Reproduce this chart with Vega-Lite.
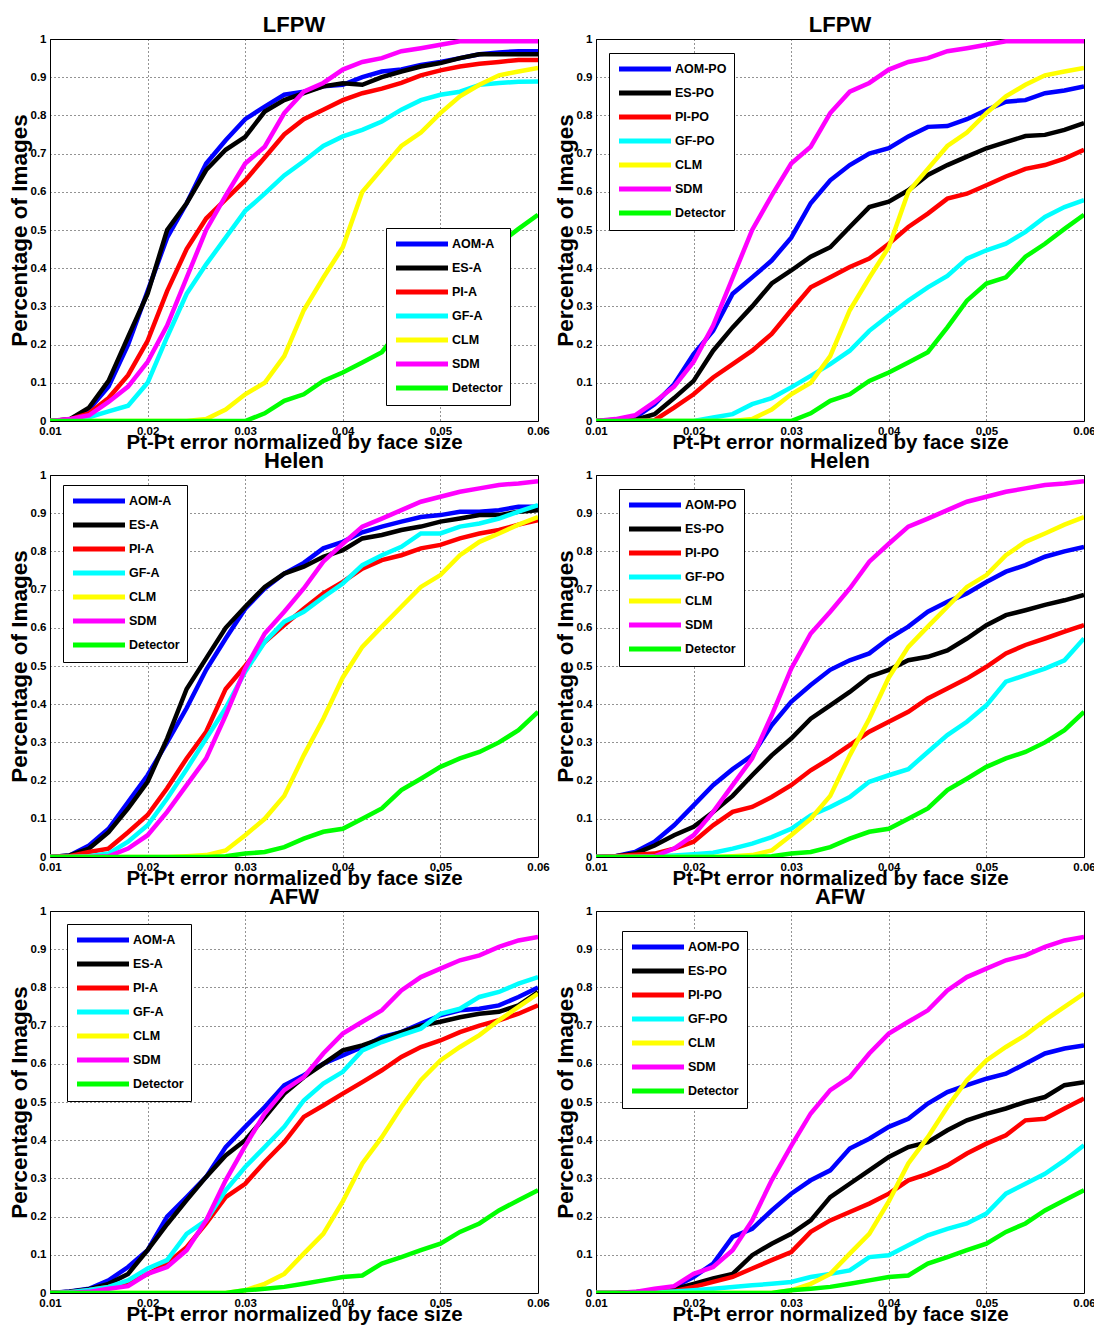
{
  "$schema": "https://vega.github.io/schema/vega-lite/v6.json",
  "background": "white",
  "padding": {"left": 7, "top": 13, "right": 5, "bottom": 5},
  "datasets": {
    "lfpw": [
      {"x":0.01,"AOM-A":0,"ES-A":0,"PI-A":0,"GF-A":0,"AOM-PO":0,"ES-PO":0,"PI-PO":0,"GF-PO":0,"CLM":0,"SDM":0,"Detector":0},
      {"x":0.012,"AOM-A":0.004,"ES-A":0.004,"PI-A":0.004,"GF-A":0.002,"AOM-PO":0.003,"ES-PO":0,"PI-PO":0,"GF-PO":0,"CLM":0,"SDM":0.005,"Detector":0},
      {"x":0.014,"AOM-A":0.03,"ES-A":0.035,"PI-A":0.02,"GF-A":0.01,"AOM-PO":0.009,"ES-PO":0.003,"PI-PO":0,"GF-PO":0,"CLM":0,"SDM":0.015,"Detector":0},
      {"x":0.016,"AOM-A":0.09,"ES-A":0.105,"PI-A":0.06,"GF-A":0.025,"AOM-PO":0.044,"ES-PO":0.018,"PI-PO":0.002,"GF-PO":0,"CLM":0,"SDM":0.05,"Detector":0},
      {"x":0.018,"AOM-A":0.2,"ES-A":0.22,"PI-A":0.12,"GF-A":0.04,"AOM-PO":0.096,"ES-PO":0.06,"PI-PO":0.035,"GF-PO":0,"CLM":0,"SDM":0.09,"Detector":0},
      {"x":0.02,"AOM-A":0.34,"ES-A":0.333,"PI-A":0.21,"GF-A":0.1,"AOM-PO":0.175,"ES-PO":0.105,"PI-PO":0.07,"GF-PO":0,"CLM":0,"SDM":0.155,"Detector":0},
      {"x":0.022,"AOM-A":0.48,"ES-A":0.5,"PI-A":0.34,"GF-A":0.22,"AOM-PO":0.236,"ES-PO":0.184,"PI-PO":0.114,"GF-PO":0.009,"CLM":0,"SDM":0.25,"Detector":0},
      {"x":0.024,"AOM-A":0.57,"ES-A":0.57,"PI-A":0.45,"GF-A":0.333,"AOM-PO":0.333,"ES-PO":0.245,"PI-PO":0.149,"GF-PO":0.018,"CLM":0,"SDM":0.375,"Detector":0},
      {"x":0.026,"AOM-A":0.674,"ES-A":0.657,"PI-A":0.53,"GF-A":0.41,"AOM-PO":0.376,"ES-PO":0.3,"PI-PO":0.184,"GF-PO":0.044,"CLM":0.005,"SDM":0.5,"Detector":0},
      {"x":0.028,"AOM-A":0.735,"ES-A":0.71,"PI-A":0.58,"GF-A":0.48,"AOM-PO":0.42,"ES-PO":0.36,"PI-PO":0.228,"GF-PO":0.06,"CLM":0.03,"SDM":0.59,"Detector":0},
      {"x":0.03,"AOM-A":0.79,"ES-A":0.744,"PI-A":0.63,"GF-A":0.55,"AOM-PO":0.48,"ES-PO":0.394,"PI-PO":0.29,"GF-PO":0.088,"CLM":0.07,"SDM":0.674,"Detector":0},
      {"x":0.032,"AOM-A":0.823,"ES-A":0.81,"PI-A":0.69,"GF-A":0.595,"AOM-PO":0.57,"ES-PO":0.43,"PI-PO":0.35,"GF-PO":0.118,"CLM":0.1,"SDM":0.718,"Detector":0.02},
      {"x":0.034,"AOM-A":0.854,"ES-A":0.84,"PI-A":0.75,"GF-A":0.643,"AOM-PO":0.63,"ES-PO":0.455,"PI-PO":0.376,"GF-PO":0.149,"CLM":0.17,"SDM":0.806,"Detector":0.053},
      {"x":0.036,"AOM-A":0.862,"ES-A":0.858,"PI-A":0.79,"GF-A":0.68,"AOM-PO":0.67,"ES-PO":0.508,"PI-PO":0.403,"GF-PO":0.184,"CLM":0.29,"SDM":0.862,"Detector":0.07},
      {"x":0.038,"AOM-A":0.876,"ES-A":0.876,"PI-A":0.815,"GF-A":0.72,"AOM-PO":0.7,"ES-PO":0.56,"PI-PO":0.425,"GF-PO":0.236,"CLM":0.375,"SDM":0.885,"Detector":0.105},
      {"x":0.04,"AOM-A":0.88,"ES-A":0.884,"PI-A":0.84,"GF-A":0.745,"AOM-PO":0.714,"ES-PO":0.574,"PI-PO":0.464,"GF-PO":0.276,"CLM":0.455,"SDM":0.92,"Detector":0.127},
      {"x":0.042,"AOM-A":0.9,"ES-A":0.88,"PI-A":0.858,"GF-A":0.762,"AOM-PO":0.745,"ES-PO":0.604,"PI-PO":0.508,"GF-PO":0.315,"CLM":0.6,"SDM":0.94,"Detector":0.153},
      {"x":0.044,"AOM-A":0.915,"ES-A":0.9,"PI-A":0.87,"GF-A":0.784,"AOM-PO":0.77,"ES-PO":0.644,"PI-PO":0.543,"GF-PO":0.35,"CLM":0.66,"SDM":0.95,"Detector":0.18},
      {"x":0.046,"AOM-A":0.92,"ES-A":0.915,"PI-A":0.885,"GF-A":0.815,"AOM-PO":0.772,"ES-PO":0.67,"PI-PO":0.582,"GF-PO":0.38,"CLM":0.72,"SDM":0.968,"Detector":0.245},
      {"x":0.048,"AOM-A":0.932,"ES-A":0.928,"PI-A":0.905,"GF-A":0.84,"AOM-PO":0.79,"ES-PO":0.692,"PI-PO":0.595,"GF-PO":0.425,"CLM":0.755,"SDM":0.976,"Detector":0.315},
      {"x":0.05,"AOM-A":0.94,"ES-A":0.937,"PI-A":0.918,"GF-A":0.854,"AOM-PO":0.814,"ES-PO":0.714,"PI-PO":0.617,"GF-PO":0.447,"CLM":0.806,"SDM":0.985,"Detector":0.36},
      {"x":0.052,"AOM-A":0.95,"ES-A":0.95,"PI-A":0.928,"GF-A":0.862,"AOM-PO":0.836,"ES-PO":0.73,"PI-PO":0.64,"GF-PO":0.464,"CLM":0.85,"SDM":0.994,"Detector":0.376},
      {"x":0.054,"AOM-A":0.96,"ES-A":0.96,"PI-A":0.935,"GF-A":0.88,"AOM-PO":0.84,"ES-PO":0.746,"PI-PO":0.66,"GF-PO":0.495,"CLM":0.88,"SDM":0.994,"Detector":0.43},
      {"x":0.056,"AOM-A":0.965,"ES-A":0.96,"PI-A":0.94,"GF-A":0.885,"AOM-PO":0.858,"ES-PO":0.749,"PI-PO":0.67,"GF-PO":0.534,"CLM":0.905,"SDM":0.994,"Detector":0.464},
      {"x":0.058,"AOM-A":0.968,"ES-A":0.96,"PI-A":0.945,"GF-A":0.888,"AOM-PO":0.865,"ES-PO":0.762,"PI-PO":0.687,"GF-PO":0.56,"CLM":0.915,"SDM":0.994,"Detector":0.503},
      {"x":0.06,"AOM-A":0.968,"ES-A":0.96,"PI-A":0.945,"GF-A":0.889,"AOM-PO":0.876,"ES-PO":0.78,"PI-PO":0.71,"GF-PO":0.578,"CLM":0.924,"SDM":0.994,"Detector":0.54}
    ],
    "helen": [
      {"x":0.01,"AOM-A":0,"ES-A":0,"PI-A":0,"GF-A":0,"AOM-PO":0,"ES-PO":0,"PI-PO":0,"GF-PO":0,"CLM":0,"SDM":0,"Detector":0},
      {"x":0.012,"AOM-A":0.004,"ES-A":0.004,"PI-A":0.002,"GF-A":0,"AOM-PO":0.002,"ES-PO":0.002,"PI-PO":0.002,"GF-PO":0,"CLM":0,"SDM":0,"Detector":0},
      {"x":0.014,"AOM-A":0.03,"ES-A":0.022,"PI-A":0.013,"GF-A":0.002,"AOM-PO":0.013,"ES-PO":0.009,"PI-PO":0.006,"GF-PO":0,"CLM":0,"SDM":0,"Detector":0},
      {"x":0.016,"AOM-A":0.074,"ES-A":0.065,"PI-A":0.022,"GF-A":0.009,"AOM-PO":0.04,"ES-PO":0.03,"PI-PO":0.009,"GF-PO":0.002,"CLM":0,"SDM":0.002,"Detector":0},
      {"x":0.018,"AOM-A":0.144,"ES-A":0.127,"PI-A":0.065,"GF-A":0.04,"AOM-PO":0.083,"ES-PO":0.057,"PI-PO":0.022,"GF-PO":0.004,"CLM":0,"SDM":0.022,"Detector":0},
      {"x":0.02,"AOM-A":0.214,"ES-A":0.197,"PI-A":0.11,"GF-A":0.083,"AOM-PO":0.135,"ES-PO":0.079,"PI-PO":0.04,"GF-PO":0.007,"CLM":0,"SDM":0.057,"Detector":0},
      {"x":0.022,"AOM-A":0.3,"ES-A":0.31,"PI-A":0.18,"GF-A":0.153,"AOM-PO":0.188,"ES-PO":0.118,"PI-PO":0.083,"GF-PO":0.011,"CLM":0,"SDM":0.118,"Detector":0},
      {"x":0.024,"AOM-A":0.39,"ES-A":0.44,"PI-A":0.258,"GF-A":0.23,"AOM-PO":0.23,"ES-PO":0.16,"PI-PO":0.118,"GF-PO":0.022,"CLM":0.002,"SDM":0.188,"Detector":0},
      {"x":0.026,"AOM-A":0.49,"ES-A":0.52,"PI-A":0.328,"GF-A":0.31,"AOM-PO":0.266,"ES-PO":0.214,"PI-PO":0.131,"GF-PO":0.035,"CLM":0.005,"SDM":0.258,"Detector":0},
      {"x":0.028,"AOM-A":0.572,"ES-A":0.6,"PI-A":0.44,"GF-A":0.39,"AOM-PO":0.345,"ES-PO":0.266,"PI-PO":0.157,"GF-PO":0.052,"CLM":0.017,"SDM":0.371,"Detector":0.002},
      {"x":0.03,"AOM-A":0.65,"ES-A":0.655,"PI-A":0.5,"GF-A":0.485,"AOM-PO":0.406,"ES-PO":0.31,"PI-PO":0.188,"GF-PO":0.074,"CLM":0.057,"SDM":0.493,"Detector":0.009},
      {"x":0.032,"AOM-A":0.703,"ES-A":0.707,"PI-A":0.563,"GF-A":0.563,"AOM-PO":0.45,"ES-PO":0.362,"PI-PO":0.227,"GF-PO":0.109,"CLM":0.1,"SDM":0.585,"Detector":0.013},
      {"x":0.034,"AOM-A":0.742,"ES-A":0.742,"PI-A":0.607,"GF-A":0.616,"AOM-PO":0.49,"ES-PO":0.397,"PI-PO":0.258,"GF-PO":0.131,"CLM":0.16,"SDM":0.642,"Detector":0.026},
      {"x":0.036,"AOM-A":0.77,"ES-A":0.76,"PI-A":0.65,"GF-A":0.642,"AOM-PO":0.515,"ES-PO":0.432,"PI-PO":0.293,"GF-PO":0.157,"CLM":0.266,"SDM":0.703,"Detector":0.048},
      {"x":0.038,"AOM-A":0.808,"ES-A":0.786,"PI-A":0.69,"GF-A":0.68,"AOM-PO":0.533,"ES-PO":0.472,"PI-PO":0.328,"GF-PO":0.197,"CLM":0.362,"SDM":0.773,"Detector":0.066},
      {"x":0.04,"AOM-A":0.825,"ES-A":0.803,"PI-A":0.72,"GF-A":0.716,"AOM-PO":0.572,"ES-PO":0.49,"PI-PO":0.354,"GF-PO":0.214,"CLM":0.47,"SDM":0.82,"Detector":0.074},
      {"x":0.042,"AOM-A":0.85,"ES-A":0.834,"PI-A":0.755,"GF-A":0.764,"AOM-PO":0.603,"ES-PO":0.515,"PI-PO":0.38,"GF-PO":0.23,"CLM":0.55,"SDM":0.865,"Detector":0.1},
      {"x":0.044,"AOM-A":0.865,"ES-A":0.843,"PI-A":0.777,"GF-A":0.79,"AOM-PO":0.642,"ES-PO":0.524,"PI-PO":0.415,"GF-PO":0.275,"CLM":0.603,"SDM":0.886,"Detector":0.127},
      {"x":0.046,"AOM-A":0.878,"ES-A":0.856,"PI-A":0.79,"GF-A":0.812,"AOM-PO":0.668,"ES-PO":0.541,"PI-PO":0.441,"GF-PO":0.319,"CLM":0.655,"SDM":0.908,"Detector":0.175},
      {"x":0.048,"AOM-A":0.89,"ES-A":0.865,"PI-A":0.808,"GF-A":0.847,"AOM-PO":0.69,"ES-PO":0.572,"PI-PO":0.467,"GF-PO":0.354,"CLM":0.707,"SDM":0.93,"Detector":0.205},
      {"x":0.05,"AOM-A":0.895,"ES-A":0.878,"PI-A":0.817,"GF-A":0.847,"AOM-PO":0.72,"ES-PO":0.607,"PI-PO":0.498,"GF-PO":0.397,"CLM":0.738,"SDM":0.943,"Detector":0.236},
      {"x":0.052,"AOM-A":0.904,"ES-A":0.886,"PI-A":0.834,"GF-A":0.865,"AOM-PO":0.747,"ES-PO":0.633,"PI-PO":0.533,"GF-PO":0.459,"CLM":0.79,"SDM":0.956,"Detector":0.258},
      {"x":0.054,"AOM-A":0.904,"ES-A":0.895,"PI-A":0.847,"GF-A":0.873,"AOM-PO":0.764,"ES-PO":0.646,"PI-PO":0.555,"GF-PO":0.476,"CLM":0.825,"SDM":0.965,"Detector":0.275},
      {"x":0.056,"AOM-A":0.908,"ES-A":0.895,"PI-A":0.856,"GF-A":0.886,"AOM-PO":0.786,"ES-PO":0.66,"PI-PO":0.572,"GF-PO":0.493,"CLM":0.847,"SDM":0.974,"Detector":0.3},
      {"x":0.058,"AOM-A":0.917,"ES-A":0.904,"PI-A":0.87,"GF-A":0.904,"AOM-PO":0.8,"ES-PO":0.672,"PI-PO":0.59,"GF-PO":0.515,"CLM":0.87,"SDM":0.978,"Detector":0.332},
      {"x":0.06,"AOM-A":0.917,"ES-A":0.908,"PI-A":0.882,"GF-A":0.921,"AOM-PO":0.812,"ES-PO":0.686,"PI-PO":0.607,"GF-PO":0.572,"CLM":0.89,"SDM":0.984,"Detector":0.38}
    ],
    "afw": [
      {"x":0.01,"AOM-A":0,"ES-A":0,"PI-A":0,"GF-A":0,"AOM-PO":0,"ES-PO":0,"PI-PO":0,"GF-PO":0,"CLM":0,"SDM":0,"Detector":0},
      {"x":0.012,"AOM-A":0.004,"ES-A":0.003,"PI-A":0.002,"GF-A":0.002,"AOM-PO":0,"ES-PO":0,"PI-PO":0,"GF-PO":0,"CLM":0,"SDM":0,"Detector":0},
      {"x":0.014,"AOM-A":0.011,"ES-A":0.01,"PI-A":0.008,"GF-A":0.008,"AOM-PO":0.002,"ES-PO":0.002,"PI-PO":0.002,"GF-PO":0,"CLM":0,"SDM":0.003,"Detector":0},
      {"x":0.016,"AOM-A":0.033,"ES-A":0.024,"PI-A":0.016,"GF-A":0.016,"AOM-PO":0.005,"ES-PO":0.005,"PI-PO":0.004,"GF-PO":0.002,"CLM":0,"SDM":0.011,"Detector":0},
      {"x":0.018,"AOM-A":0.068,"ES-A":0.05,"PI-A":0.024,"GF-A":0.033,"AOM-PO":0.016,"ES-PO":0.01,"PI-PO":0.005,"GF-PO":0.004,"CLM":0,"SDM":0.018,"Detector":0},
      {"x":0.02,"AOM-A":0.112,"ES-A":0.112,"PI-A":0.05,"GF-A":0.064,"AOM-PO":0.042,"ES-PO":0.024,"PI-PO":0.016,"GF-PO":0.007,"CLM":0,"SDM":0.05,"Detector":0},
      {"x":0.022,"AOM-A":0.2,"ES-A":0.18,"PI-A":0.077,"GF-A":0.086,"AOM-PO":0.077,"ES-PO":0.038,"PI-PO":0.029,"GF-PO":0.011,"CLM":0,"SDM":0.068,"Detector":0},
      {"x":0.024,"AOM-A":0.251,"ES-A":0.243,"PI-A":0.12,"GF-A":0.155,"AOM-PO":0.147,"ES-PO":0.05,"PI-PO":0.042,"GF-PO":0.016,"CLM":0,"SDM":0.112,"Detector":0},
      {"x":0.026,"AOM-A":0.304,"ES-A":0.304,"PI-A":0.182,"GF-A":0.19,"AOM-PO":0.168,"ES-PO":0.099,"PI-PO":0.064,"GF-PO":0.02,"CLM":0,"SDM":0.19,"Detector":0},
      {"x":0.028,"AOM-A":0.382,"ES-A":0.36,"PI-A":0.251,"GF-A":0.269,"AOM-PO":0.216,"ES-PO":0.129,"PI-PO":0.086,"GF-PO":0.024,"CLM":0,"SDM":0.295,"Detector":0},
      {"x":0.03,"AOM-A":0.435,"ES-A":0.4,"PI-A":0.286,"GF-A":0.33,"AOM-PO":0.26,"ES-PO":0.155,"PI-PO":0.107,"GF-PO":0.029,"CLM":0.007,"SDM":0.385,"Detector":0.007},
      {"x":0.032,"AOM-A":0.487,"ES-A":0.46,"PI-A":0.343,"GF-A":0.382,"AOM-PO":0.295,"ES-PO":0.19,"PI-PO":0.16,"GF-PO":0.042,"CLM":0.024,"SDM":0.47,"Detector":0.011},
      {"x":0.034,"AOM-A":0.544,"ES-A":0.522,"PI-A":0.395,"GF-A":0.435,"AOM-PO":0.321,"ES-PO":0.251,"PI-PO":0.19,"GF-PO":0.05,"CLM":0.05,"SDM":0.531,"Detector":0.016},
      {"x":0.036,"AOM-A":0.57,"ES-A":0.565,"PI-A":0.461,"GF-A":0.504,"AOM-PO":0.378,"ES-PO":0.286,"PI-PO":0.212,"GF-PO":0.059,"CLM":0.103,"SDM":0.565,"Detector":0.024},
      {"x":0.038,"AOM-A":0.6,"ES-A":0.6,"PI-A":0.491,"GF-A":0.548,"AOM-PO":0.404,"ES-PO":0.321,"PI-PO":0.234,"GF-PO":0.094,"CLM":0.155,"SDM":0.627,"Detector":0.033},
      {"x":0.04,"AOM-A":0.622,"ES-A":0.635,"PI-A":0.522,"GF-A":0.579,"AOM-PO":0.435,"ES-PO":0.356,"PI-PO":0.26,"GF-PO":0.099,"CLM":0.24,"SDM":0.679,"Detector":0.042},
      {"x":0.042,"AOM-A":0.644,"ES-A":0.648,"PI-A":0.552,"GF-A":0.635,"AOM-PO":0.456,"ES-PO":0.382,"PI-PO":0.295,"GF-PO":0.125,"CLM":0.339,"SDM":0.71,"Detector":0.046},
      {"x":0.044,"AOM-A":0.67,"ES-A":0.666,"PI-A":0.583,"GF-A":0.657,"AOM-PO":0.496,"ES-PO":0.395,"PI-PO":0.312,"GF-PO":0.151,"CLM":0.408,"SDM":0.74,"Detector":0.077},
      {"x":0.046,"AOM-A":0.683,"ES-A":0.683,"PI-A":0.618,"GF-A":0.675,"AOM-PO":0.526,"ES-PO":0.426,"PI-PO":0.334,"GF-PO":0.168,"CLM":0.487,"SDM":0.792,"Detector":0.094},
      {"x":0.048,"AOM-A":0.705,"ES-A":0.7,"PI-A":0.644,"GF-A":0.692,"AOM-PO":0.544,"ES-PO":0.452,"PI-PO":0.365,"GF-PO":0.182,"CLM":0.557,"SDM":0.827,"Detector":0.112},
      {"x":0.05,"AOM-A":0.727,"ES-A":0.71,"PI-A":0.661,"GF-A":0.731,"AOM-PO":0.561,"ES-PO":0.469,"PI-PO":0.391,"GF-PO":0.208,"CLM":0.609,"SDM":0.849,"Detector":0.129},
      {"x":0.052,"AOM-A":0.74,"ES-A":0.722,"PI-A":0.683,"GF-A":0.744,"AOM-PO":0.574,"ES-PO":0.483,"PI-PO":0.413,"GF-PO":0.26,"CLM":0.644,"SDM":0.871,"Detector":0.16},
      {"x":0.054,"AOM-A":0.744,"ES-A":0.731,"PI-A":0.7,"GF-A":0.775,"AOM-PO":0.6,"ES-PO":0.5,"PI-PO":0.452,"GF-PO":0.286,"CLM":0.675,"SDM":0.884,"Detector":0.182},
      {"x":0.056,"AOM-A":0.753,"ES-A":0.736,"PI-A":0.714,"GF-A":0.788,"AOM-PO":0.627,"ES-PO":0.513,"PI-PO":0.456,"GF-PO":0.312,"CLM":0.714,"SDM":0.906,"Detector":0.216},
      {"x":0.058,"AOM-A":0.775,"ES-A":0.753,"PI-A":0.731,"GF-A":0.81,"AOM-PO":0.64,"ES-PO":0.544,"PI-PO":0.483,"GF-PO":0.347,"CLM":0.749,"SDM":0.923,"Detector":0.243},
      {"x":0.06,"AOM-A":0.8,"ES-A":0.788,"PI-A":0.753,"GF-A":0.827,"AOM-PO":0.648,"ES-PO":0.552,"PI-PO":0.509,"GF-PO":0.387,"CLM":0.784,"SDM":0.932,"Detector":0.269}
    ]
  },
  "config": {
    "font": "Liberation Sans",
    "view": {"stroke": "black", "strokeWidth": 1},
    "axis": {
      "grid": true, "gridColor": "black", "gridDash": [1, 3], "gridWidth": 1, "gridOpacity": 0.85,
      "domain": false, "ticks": false, "labelOverlap": false, "labelFlush": false,
      "labelFont": "Liberation Sans", "labelFontWeight": "bold", "labelFontSize": 11.5, "labelColor": "black",
      "titleFont": "Liberation Sans", "titleFontWeight": "bold", "titleFontSize": 20.5, "titleColor": "black"
    },
    "axisX": {"labelPadding": 4, "titlePadding": -4},
    "axisY": {"labelPadding": 4, "titlePadding": -1, "titleFontSize": 22.5},
    "title": {"font": "Liberation Sans", "fontSize": 22, "fontWeight": "bold", "color": "black", "offset": -4},
    "legend": {
      "orient": "none", "title": null,
      "symbolType": "M-4,0H4", "symbolSize": 169, "symbolStrokeWidth": 5, "symbolOffset": 20,
      "labelFont": "Liberation Sans", "labelFontWeight": "bold", "labelFontSize": 12.5, "labelColor": "black",
      "labelOffset": 21, "strokeColor": "black", "fillColor": "white", "padding": 7, "rowPadding": 4
    }
  },
  "columns": 2,
  "spacing": {"row": 54, "column": 58},
  "bounds": "flush",
  "resolve": {"scale": {"color": "independent"}, "legend": {"color": "independent"}},
  "concat": [
    {
      "title": "LFPW", "width": 488, "height": 382,
      "data": {"name": "lfpw"},
      "transform": [{"fold": ["AOM-A", "ES-A", "PI-A", "GF-A", "CLM", "SDM", "Detector"], "as": ["method", "value"]}],
      "mark": {"type": "line", "strokeWidth": 4.5, "clip": true},
      "encoding": {
        "x": {"field": "x", "type": "quantitative", "scale": {"domain": [0.01, 0.06], "nice": false, "zero": false}, "axis": {"values": [0.01, 0.02, 0.03, 0.04, 0.05, 0.06], "format": "~g", "title": "Pt-Pt error normalized by face size"}},
        "y": {"field": "value", "type": "quantitative", "scale": {"domain": [0, 1], "nice": false}, "axis": {"values": [0, 0.1, 0.2, 0.3, 0.4, 0.5, 0.6, 0.7, 0.8, 0.9, 1], "format": "~g", "title": "Percentage of Images"}},
        "color": {"field": "method", "type": "nominal", "scale": {"domain": ["AOM-A", "ES-A", "PI-A", "GF-A", "CLM", "SDM", "Detector"], "range": ["#0000ff", "#000000", "#ff0000", "#00ffff", "#ffff00", "#ff00ff", "#00ff00"]}, "legend": {"legendX": 336, "legendY": 189}}
      }
    },
    {
      "title": "LFPW", "width": 488, "height": 382,
      "data": {"name": "lfpw"},
      "transform": [{"fold": ["AOM-PO", "ES-PO", "PI-PO", "GF-PO", "CLM", "SDM", "Detector"], "as": ["method", "value"]}],
      "mark": {"type": "line", "strokeWidth": 4.5, "clip": true},
      "encoding": {
        "x": {"field": "x", "type": "quantitative", "scale": {"domain": [0.01, 0.06], "nice": false, "zero": false}, "axis": {"values": [0.01, 0.02, 0.03, 0.04, 0.05, 0.06], "format": "~g", "title": "Pt-Pt error normalized by face size"}},
        "y": {"field": "value", "type": "quantitative", "scale": {"domain": [0, 1], "nice": false}, "axis": {"values": [0, 0.1, 0.2, 0.3, 0.4, 0.5, 0.6, 0.7, 0.8, 0.9, 1], "format": "~g", "title": "Percentage of Images"}},
        "color": {"field": "method", "type": "nominal", "scale": {"domain": ["AOM-PO", "ES-PO", "PI-PO", "GF-PO", "CLM", "SDM", "Detector"], "range": ["#0000ff", "#000000", "#ff0000", "#00ffff", "#ffff00", "#ff00ff", "#00ff00"]}, "legend": {"legendX": 13, "legendY": 14}}
      }
    },
    {
      "title": "Helen", "width": 488, "height": 382,
      "data": {"name": "helen"},
      "transform": [{"fold": ["AOM-A", "ES-A", "PI-A", "GF-A", "CLM", "SDM", "Detector"], "as": ["method", "value"]}],
      "mark": {"type": "line", "strokeWidth": 4.5, "clip": true},
      "encoding": {
        "x": {"field": "x", "type": "quantitative", "scale": {"domain": [0.01, 0.06], "nice": false, "zero": false}, "axis": {"values": [0.01, 0.02, 0.03, 0.04, 0.05, 0.06], "format": "~g", "title": "Pt-Pt error normalized by face size"}},
        "y": {"field": "value", "type": "quantitative", "scale": {"domain": [0, 1], "nice": false}, "axis": {"values": [0, 0.1, 0.2, 0.3, 0.4, 0.5, 0.6, 0.7, 0.8, 0.9, 1], "format": "~g", "title": "Percentage of Images"}},
        "color": {"field": "method", "type": "nominal", "scale": {"domain": ["AOM-A", "ES-A", "PI-A", "GF-A", "CLM", "SDM", "Detector"], "range": ["#0000ff", "#000000", "#ff0000", "#00ffff", "#ffff00", "#ff00ff", "#00ff00"]}, "legend": {"legendX": 13, "legendY": 10}}
      }
    },
    {
      "title": "Helen", "width": 488, "height": 382,
      "data": {"name": "helen"},
      "transform": [{"fold": ["AOM-PO", "ES-PO", "PI-PO", "GF-PO", "CLM", "SDM", "Detector"], "as": ["method", "value"]}],
      "mark": {"type": "line", "strokeWidth": 4.5, "clip": true},
      "encoding": {
        "x": {"field": "x", "type": "quantitative", "scale": {"domain": [0.01, 0.06], "nice": false, "zero": false}, "axis": {"values": [0.01, 0.02, 0.03, 0.04, 0.05, 0.06], "format": "~g", "title": "Pt-Pt error normalized by face size"}},
        "y": {"field": "value", "type": "quantitative", "scale": {"domain": [0, 1], "nice": false}, "axis": {"values": [0, 0.1, 0.2, 0.3, 0.4, 0.5, 0.6, 0.7, 0.8, 0.9, 1], "format": "~g", "title": "Percentage of Images"}},
        "color": {"field": "method", "type": "nominal", "scale": {"domain": ["AOM-PO", "ES-PO", "PI-PO", "GF-PO", "CLM", "SDM", "Detector"], "range": ["#0000ff", "#000000", "#ff0000", "#00ffff", "#ffff00", "#ff00ff", "#00ff00"]}, "legend": {"legendX": 23, "legendY": 14}}
      }
    },
    {
      "title": "AFW", "width": 488, "height": 382,
      "data": {"name": "afw"},
      "transform": [{"fold": ["AOM-A", "ES-A", "PI-A", "GF-A", "CLM", "SDM", "Detector"], "as": ["method", "value"]}],
      "mark": {"type": "line", "strokeWidth": 4.5, "clip": true},
      "encoding": {
        "x": {"field": "x", "type": "quantitative", "scale": {"domain": [0.01, 0.06], "nice": false, "zero": false}, "axis": {"values": [0.01, 0.02, 0.03, 0.04, 0.05, 0.06], "format": "~g", "title": "Pt-Pt error normalized by face size"}},
        "y": {"field": "value", "type": "quantitative", "scale": {"domain": [0, 1], "nice": false}, "axis": {"values": [0, 0.1, 0.2, 0.3, 0.4, 0.5, 0.6, 0.7, 0.8, 0.9, 1], "format": "~g", "title": "Percentage of Images"}},
        "color": {"field": "method", "type": "nominal", "scale": {"domain": ["AOM-A", "ES-A", "PI-A", "GF-A", "CLM", "SDM", "Detector"], "range": ["#0000ff", "#000000", "#ff0000", "#00ffff", "#ffff00", "#ff00ff", "#00ff00"]}, "legend": {"legendX": 17, "legendY": 13}}
      }
    },
    {
      "title": "AFW", "width": 488, "height": 382,
      "data": {"name": "afw"},
      "transform": [{"fold": ["AOM-PO", "ES-PO", "PI-PO", "GF-PO", "CLM", "SDM", "Detector"], "as": ["method", "value"]}],
      "mark": {"type": "line", "strokeWidth": 4.5, "clip": true},
      "encoding": {
        "x": {"field": "x", "type": "quantitative", "scale": {"domain": [0.01, 0.06], "nice": false, "zero": false}, "axis": {"values": [0.01, 0.02, 0.03, 0.04, 0.05, 0.06], "format": "~g", "title": "Pt-Pt error normalized by face size"}},
        "y": {"field": "value", "type": "quantitative", "scale": {"domain": [0, 1], "nice": false}, "axis": {"values": [0, 0.1, 0.2, 0.3, 0.4, 0.5, 0.6, 0.7, 0.8, 0.9, 1], "format": "~g", "title": "Percentage of Images"}},
        "color": {"field": "method", "type": "nominal", "scale": {"domain": ["AOM-PO", "ES-PO", "PI-PO", "GF-PO", "CLM", "SDM", "Detector"], "range": ["#0000ff", "#000000", "#ff0000", "#00ffff", "#ffff00", "#ff00ff", "#00ff00"]}, "legend": {"legendX": 26, "legendY": 20}}
      }
    }
  ]
}
